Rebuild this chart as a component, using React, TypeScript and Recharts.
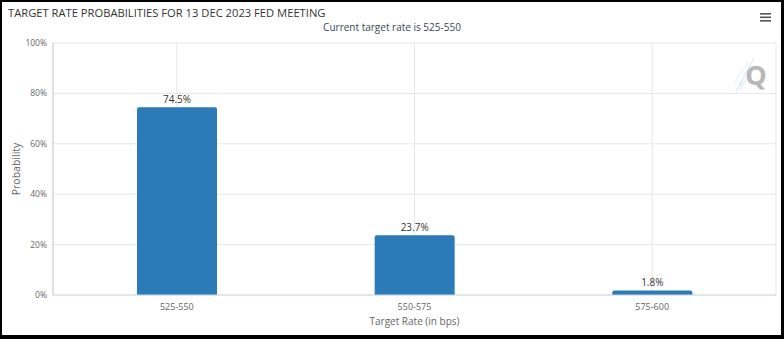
import React from 'react';
import {
  BarChart, Bar, XAxis, YAxis, CartesianGrid, LabelList,
} from 'recharts';

const rates = ['525-550', '550-575', '575-600'];
const probabilities = [74.5, 23.7, 1.8];
const yTicks = [0, 20, 40, 60, 80, 100];

const data = rates.map((rate, i) => ({ rate, prob: probabilities[i] }));

const font = '"Open Sans", "DejaVu Sans", sans-serif';

const MenuIcon = () => (
  <svg width={14} height={12} style={{ position: 'absolute', left: 759, top: 11 }}>
    <rect x={1} y={2} width={11} height={1.6} fill="#555" />
    <rect x={1} y={5.5} width={11} height={1.6} fill="#555" />
    <rect x={1} y={9} width={11} height={1.6} fill="#555" />
  </svg>
);

const Watermark = () => (
  <svg width={44} height={44} style={{ position: 'absolute', left: 728, top: 52 }}>
    <line x1={8} y1={40} x2={26} y2={6} stroke="#c4e8ef" strokeWidth={1} />
    <line x1={12} y1={38} x2={26} y2={14} stroke="#d2eff4" strokeWidth={1} />
    <line x1={5} y1={33} x2={20} y2={10} stroke="#dcf2f5" strokeWidth={1} />
    <text x={28} y={33} fontFamily={font} fontSize={27} fontWeight={700} fill="#b8b8b8" textAnchor="middle">Q</text>
  </svg>
);

const App = () => (
  <div style={{ position: 'absolute', left: 0, top: 0, width: 784, height: 339, background: '#000' }}>
    <div style={{ position: 'absolute', left: 2, top: 2, width: 779, height: 333, background: '#fff' }} />
    <div style={{ position: 'absolute', left: 0, top: 0 }}>
      <BarChart
        width={784}
        height={339}
        data={data}
        margin={{ top: 43, right: 8, bottom: 14, left: 0 }}
      >
        <CartesianGrid stroke="#e6e6e6" vertical horizontal />
        <XAxis
          dataKey="rate"
          height={30}
          padding={{ left: 5, right: 5 }}
          tickLine={false}
          axisLine={{ stroke: '#ccd6eb' }}
          tick={{ fontSize: 9, fill: '#666', fontFamily: font }}
          tickMargin={3}
          label={{ value: 'Target Rate (in bps)', position: 'insideBottom', offset: 0, style: { fontSize: 10, fill: '#666', fontFamily: font } }}
        />
        <YAxis
          width={53}
          domain={[0, 100]}
          ticks={yTicks}
          tickFormatter={(v) => `${v}%`}
          tickLine={false}
          tickSize={0}
          tickMargin={6}
          axisLine={{ stroke: '#ccc' }}
          tick={{ fontSize: 8.5, fill: '#666', fontFamily: font }}
          label={{ value: 'Probability', angle: -90, position: 'insideLeft', offset: 16, style: { fontSize: 10.5, fill: '#666', fontFamily: font, textAnchor: 'middle' } }}
        />
        <Bar dataKey="prob" fill="#2b7bb9" barSize={80} radius={[2, 2, 0, 0]} isAnimationActive={false}>
          <LabelList
            dataKey="prob"
            position="top"
            offset={4}
            formatter={(v: any) => `${v}%`}
            style={{ fontSize: 10, fill: '#333', fontFamily: font }}
          />
        </Bar>
      </BarChart>
    </div>
    <div style={{ position: 'absolute', left: 8, top: 5, fontFamily: font, fontSize: 11.2, color: '#333', whiteSpace: 'nowrap' }}>
      TARGET RATE PROBABILITIES FOR 13 DEC 2023 FED MEETING
    </div>
    <div style={{ position: 'absolute', left: 0, width: 784, top: 20, textAlign: 'center', fontFamily: font, fontSize: 10, color: '#3a4656' }}>
      Current target rate is 525-550
    </div>
    <MenuIcon />
    <Watermark />
  </div>
);

export default App;
